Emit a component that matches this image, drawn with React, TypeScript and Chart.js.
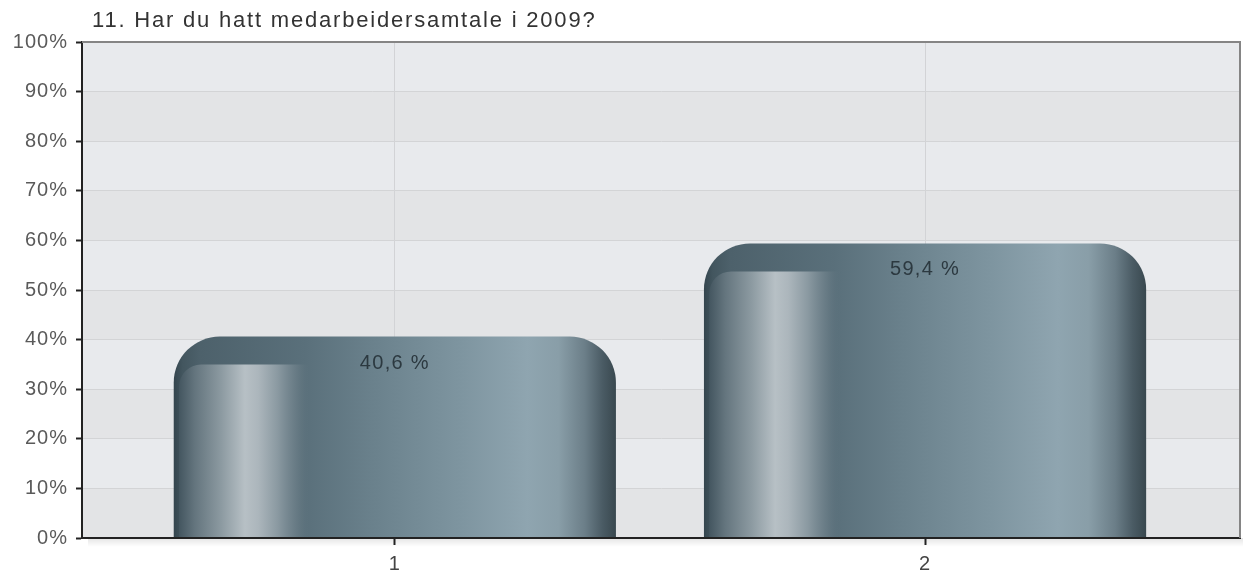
import React, { useEffect, useRef } from 'react';
import { Chart, registerables } from 'chart.js';

Chart.register(...registerables);

// ---- data ----
const TITLE = '11. Har du hatt medarbeidersamtale i 2009?';
const CATEGORIES = [1, 2];
const CATEGORY_LABELS = ['1', '2'];
const VALUES = [40.6, 59.4];
const VALUE_LABELS = ['40,6 %', '59,4 %'];
const Y_TICKS = [0, 10, 20, 30, 40, 50, 60, 70, 80, 90, 100];

// ---- style ----
const FONT = '"Liberation Sans", Arial, Helvetica, sans-serif';
const BAR_PCT = 0.834;
const X_MIN = 0.41;
const X_MAX = 2.594;

function barGradient(ctx: CanvasRenderingContext2D, x0: number, x1: number) {
  const g = ctx.createLinearGradient(x0, 0, x1, 0);
  g.addColorStop(0.0, '#34454e');
  g.addColorStop(0.02, '#43565f');
  g.addColorStop(0.06, '#4d616b');
  g.addColorStop(0.3, '#5a707b');
  g.addColorStop(0.45, '#6a818c');
  g.addColorStop(0.65, '#7e95a0');
  g.addColorStop(0.8, '#8fa5b0');
  g.addColorStop(0.87, '#899ea8');
  g.addColorStop(0.93, '#6b7e88');
  g.addColorStop(0.97, '#4a5b64');
  g.addColorStop(1.0, '#39484f');
  return g;
}

const decorPlugin = {
  id: 'decor',
  beforeDraw(chart: any) {
    const { ctx, chartArea: a, scales } = chart;
    const y = scales.y;
    ctx.save();
    const sh = ctx.createLinearGradient(0, a.bottom, 0, a.bottom + 9);
    sh.addColorStop(0, 'rgba(0,0,0,0.10)');
    sh.addColorStop(1, 'rgba(0,0,0,0)');
    ctx.fillStyle = sh;
    ctx.fillRect(a.left + 6, a.bottom, a.right - a.left, 9);
    ctx.fillStyle = '#e3e4e6';
    ctx.fillRect(a.left, a.top, a.right - a.left, a.bottom - a.top);
    for (let i = 0; i < Y_TICKS.length - 1; i++) {
      if (i % 2 === 1) {
        const yTop = y.getPixelForValue(Y_TICKS[i + 1]);
        const yBot = y.getPixelForValue(Y_TICKS[i]);
        ctx.fillStyle = '#e8eaed';
        ctx.fillRect(a.left, yTop, a.right - a.left, yBot - yTop);
      }
    }
    ctx.restore();
    ctx.letterSpacing = '1px';
  },
  afterDatasetsDraw(chart: any) {
    const { ctx } = chart;
    const meta = chart.getDatasetMeta(0);
    meta.data.forEach((el: any, i: number) => {
      const p = el.getProps(['x', 'y', 'base', 'width'], true);
      if (![p.x, p.y, p.base, p.width].every((v: number) => Number.isFinite(v))) return;
      const w = p.width;
      const left = p.x - w / 2;
      const cx0 = left + w * 0.012;
      const cx1 = left + w * 0.31;
      const top = p.y + 28;
      const bot = p.base;
      const r = 22;
      ctx.save();
      const g = ctx.createLinearGradient(cx0, 0, cx1, 0);
      g.addColorStop(0.0, 'rgba(68,86,96,1)');
      g.addColorStop(0.12, 'rgba(100,117,126,1)');
      g.addColorStop(0.32, 'rgba(140,154,161,1)');
      g.addColorStop(0.5, 'rgba(183,192,197,1)');
      g.addColorStop(0.6, 'rgba(172,182,188,1)');
      g.addColorStop(0.75, 'rgba(138,153,161,1)');
      g.addColorStop(0.9, 'rgba(104,123,133,0.8)');
      g.addColorStop(1.0, 'rgba(90,112,123,0)');
      ctx.fillStyle = g;
      ctx.beginPath();
      ctx.moveTo(cx0, bot);
      ctx.lineTo(cx0, top + r);
      ctx.arcTo(cx0, top, cx0 + r, top, r);
      ctx.lineTo(cx1, top);
      ctx.lineTo(cx1, bot);
      ctx.closePath();
      ctx.fill();
      ctx.restore();

      ctx.save();
      ctx.letterSpacing = '1.3px';
      ctx.font = `20px ${FONT}`;
      ctx.fillStyle = '#2c3940';
      ctx.textAlign = 'center';
      ctx.textBaseline = 'alphabetic';
      ctx.fillText(VALUE_LABELS[i], p.x, p.y + 32);
      ctx.restore();
    });
  },
  afterDraw(chart: any) {
    const { ctx, chartArea: a } = chart;
    ctx.save();
    ctx.strokeStyle = '#858585';
    ctx.lineWidth = 2;
    ctx.beginPath();
    ctx.moveTo(a.left, a.top);
    ctx.lineTo(a.right, a.top);
    ctx.lineTo(a.right, a.bottom);
    ctx.stroke();
    ctx.letterSpacing = '1.8px';
    ctx.font = `22px ${FONT}`;
    ctx.fillStyle = '#333333';
    ctx.textAlign = 'left';
    ctx.textBaseline = 'alphabetic';
    ctx.fillText(TITLE, a.left + 10, 27);
    ctx.restore();
  },
};

export default function App() {
  const ref = useRef<HTMLCanvasElement | null>(null);
  useEffect(() => {
    if (!ref.current) return;
    const chart = new Chart(ref.current, {
      type: 'bar',
      data: {
        datasets: [
          {
            data: CATEGORIES.map((c, i) => ({ x: c, y: VALUES[i] })),
            backgroundColor: (c: any) => {
              const ch = c.chart;
              const xs = ch.scales && ch.scales.x;
              if (!xs || c.type !== 'data') return '#6a808b';
              const center = xs.getPixelForValue(CATEGORIES[c.dataIndex]);
              const w =
                Math.abs(xs.getPixelForValue(CATEGORIES[1]) - xs.getPixelForValue(CATEGORIES[0])) * BAR_PCT;
              if (!Number.isFinite(center) || !Number.isFinite(w) || w <= 0) return '#6a808b';
              return barGradient(ch.ctx, center - w / 2, center + w / 2);
            },
            borderWidth: 0,
            borderRadius: { topLeft: 46, topRight: 46, bottomLeft: 0, bottomRight: 0 },
            borderSkipped: 'start',
            barPercentage: BAR_PCT,
            categoryPercentage: 1,
          } as any,
        ],
      },
      options: {
        responsive: false,
        animation: false,
        devicePixelRatio: 1,
        layout: { padding: { top: 42, right: 3, left: 0, bottom: 0 } },
        plugins: {
          legend: { display: false },
          tooltip: { enabled: false },
          title: { display: false },
        },
        scales: {
          x: {
            type: 'linear',
            min: X_MIN,
            max: X_MAX,
            offset: false,
            afterBuildTicks: (s: any) => {
              s.ticks = CATEGORIES.map((v) => ({ value: v }));
            },
            afterFit: (s: any) => {
              s.height = 40;
            },
            grid: {
              offset: false,
              color: '#d2d3d6',
              lineWidth: 1,
              drawTicks: true,
              tickLength: 7,
              tickColor: '#222',
              tickWidth: 2,
            },
            border: { display: true, color: '#222', width: 2, z: 1 },
            ticks: {
              padding: 7,
              color: '#444',
              font: { family: FONT, size: 20 },
              callback: (_v: any, i: number) => CATEGORY_LABELS[i],
              maxRotation: 0,
            },
          },
          y: {
            min: 0,
            max: 100,
            afterBuildTicks: (s: any) => {
              s.ticks = Y_TICKS.map((v) => ({ value: v }));
            },
            afterFit: (s: any) => {
              s.width = 82;
            },
            grid: {
              color: '#d3d4d6',
              lineWidth: 1,
              drawTicks: true,
              tickLength: 6,
              tickColor: '#222',
              tickWidth: 2,
            },
            border: { display: true, color: '#222', width: 2, z: 1 },
            ticks: {
              padding: 8,
              color: '#5a5a5a',
              font: { family: FONT, size: 20 },
              callback: (v: any) => `${v}%`,
            },
          },
        },
      },
      plugins: [decorPlugin],
    });
    return () => chart.destroy();
  }, []);

  return (
    <div style={{ position: 'fixed', left: 0, top: 0, width: 1243, height: 578, background: '#fff' }}>
      <canvas ref={ref} width={1243} height={578} style={{ width: 1243, height: 578, display: 'block' }} />
    </div>
  );
}
